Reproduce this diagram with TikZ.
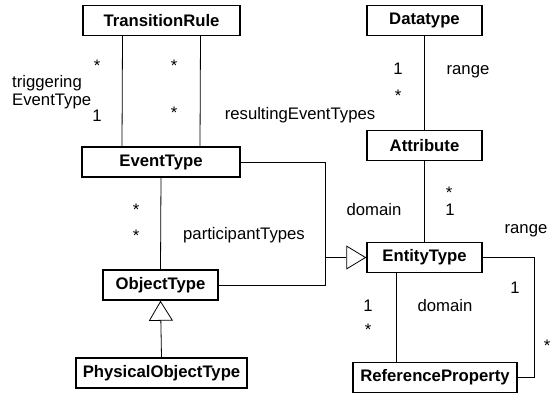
\documentclass[tikz,border=0pt]{standalone}
\usepackage{fontspec}
\setmainfont{Liberation Sans}
\usetikzlibrary{arrows.meta}

\newcommand{\umlfont}{\fontsize{16.7}{18}\selectfont}

\tikzset{
  cls/.style={draw, line width=1.5pt, font=\umlfont\bfseries, inner sep=0pt, minimum height=30pt},
  assoc/.style={line width=0.8pt},
  gen/.style={line width=0.8pt, -{Triangle[open, length=20pt, width=24pt, line width=0.8pt]}},
  mult/.style={inner sep=0pt, text height=12pt, text depth=3.5pt},
}

\begin{document}
\begin{tikzpicture}[x=1pt, y=-1pt, font=\umlfont]
\useasboundingbox (0,0) rectangle (552,393);

% classes, left column
\node[cls, minimum width=157pt] (transrule) at (161.5,20.5) {TransitionRule};
\node[cls, minimum width=158pt] (eventtype) at (161,162) {EventType};
\node[cls, minimum width=115pt] (objtype) at (160.5,285) {ObjectType};
\node[cls, minimum width=171pt] (physobj) at (161.5,373) {PhysicalObjectType};

% classes, right column
\node[cls, minimum width=115pt] (datatype) at (424.5,20.5) {Datatype};
\node[cls, minimum width=115pt] (attribute) at (424.5,145.5) {Attribute};
\node[cls, minimum width=115pt] (entitytype) at (424.5,257.5) {EntityType};
\node[cls, minimum width=164pt] (refprop) at (435,377.5) {ReferenceProperty};

% rule <-> event type
\draw[assoc] ([xshift=-39pt]transrule.south) -- ([xshift=-39pt]eventtype.north);
\draw[assoc] ([xshift=39pt]transrule.south) -- ([xshift=39pt]eventtype.north);
\node[mult] (m1) at (97,67) {*};
\node[mult] (m2) at (97,117) {1};
\node[mult, anchor=west, align=left] (trig) at (12,101) {triggering\\EventType};
\node[mult] (m3) at (174,67) {*};
\node[mult] (m4) at (174,114) {*};
\node[mult] (res) at (300,115) {resultingEventTypes};

% participants
\draw[assoc] (eventtype.south) -- (objtype.north);
\node[mult] (m5) at (136,211) {*};
\node[mult] (m6) at (136,237) {*};
\node[mult] (part) at (244,235) {participantTypes};

% subclasses
\draw[gen] (physobj.north) -- (objtype.south);
\coordinate (genpt) at (325,257.5);
\draw[assoc] (eventtype.east) -| (genpt);
\draw[assoc] (objtype.east) -| (genpt);
\draw[gen] (genpt) -- (entitytype.west);

% attributes
\draw[assoc] (datatype.south) -- (attribute.north);
\node[mult] (m7) at (398,70) {1};
\node[mult] (m8) at (398,97) {*};
\node[mult] (rng1) at (468,70) {range};
\draw[assoc] (attribute.south) -- (entitytype.north);
\node[mult] (m9) at (449,194) {*};
\node[mult] (m10) at (450,211) {1};
\node[mult] (dom1) at (374,211) {domain};

% reference properties
\draw[assoc] ([xshift=-28.5pt]entitytype.south) -- ([xshift=-28.5pt]entitytype.south |- refprop.north);
\node[mult] (m11) at (368,307) {1};
\node[mult] (m12) at (368,331) {*};
\node[mult] (dom2) at (445,307) {domain};
\draw[assoc] (entitytype.east) -- ++(52,0) |- (refprop.east);
\node[mult] (m13) at (515,289) {1};
\node[mult] (m14) at (547,347) {*};
\node[mult] (rng2) at (526,229) {range};

\end{tikzpicture}
\end{document}
